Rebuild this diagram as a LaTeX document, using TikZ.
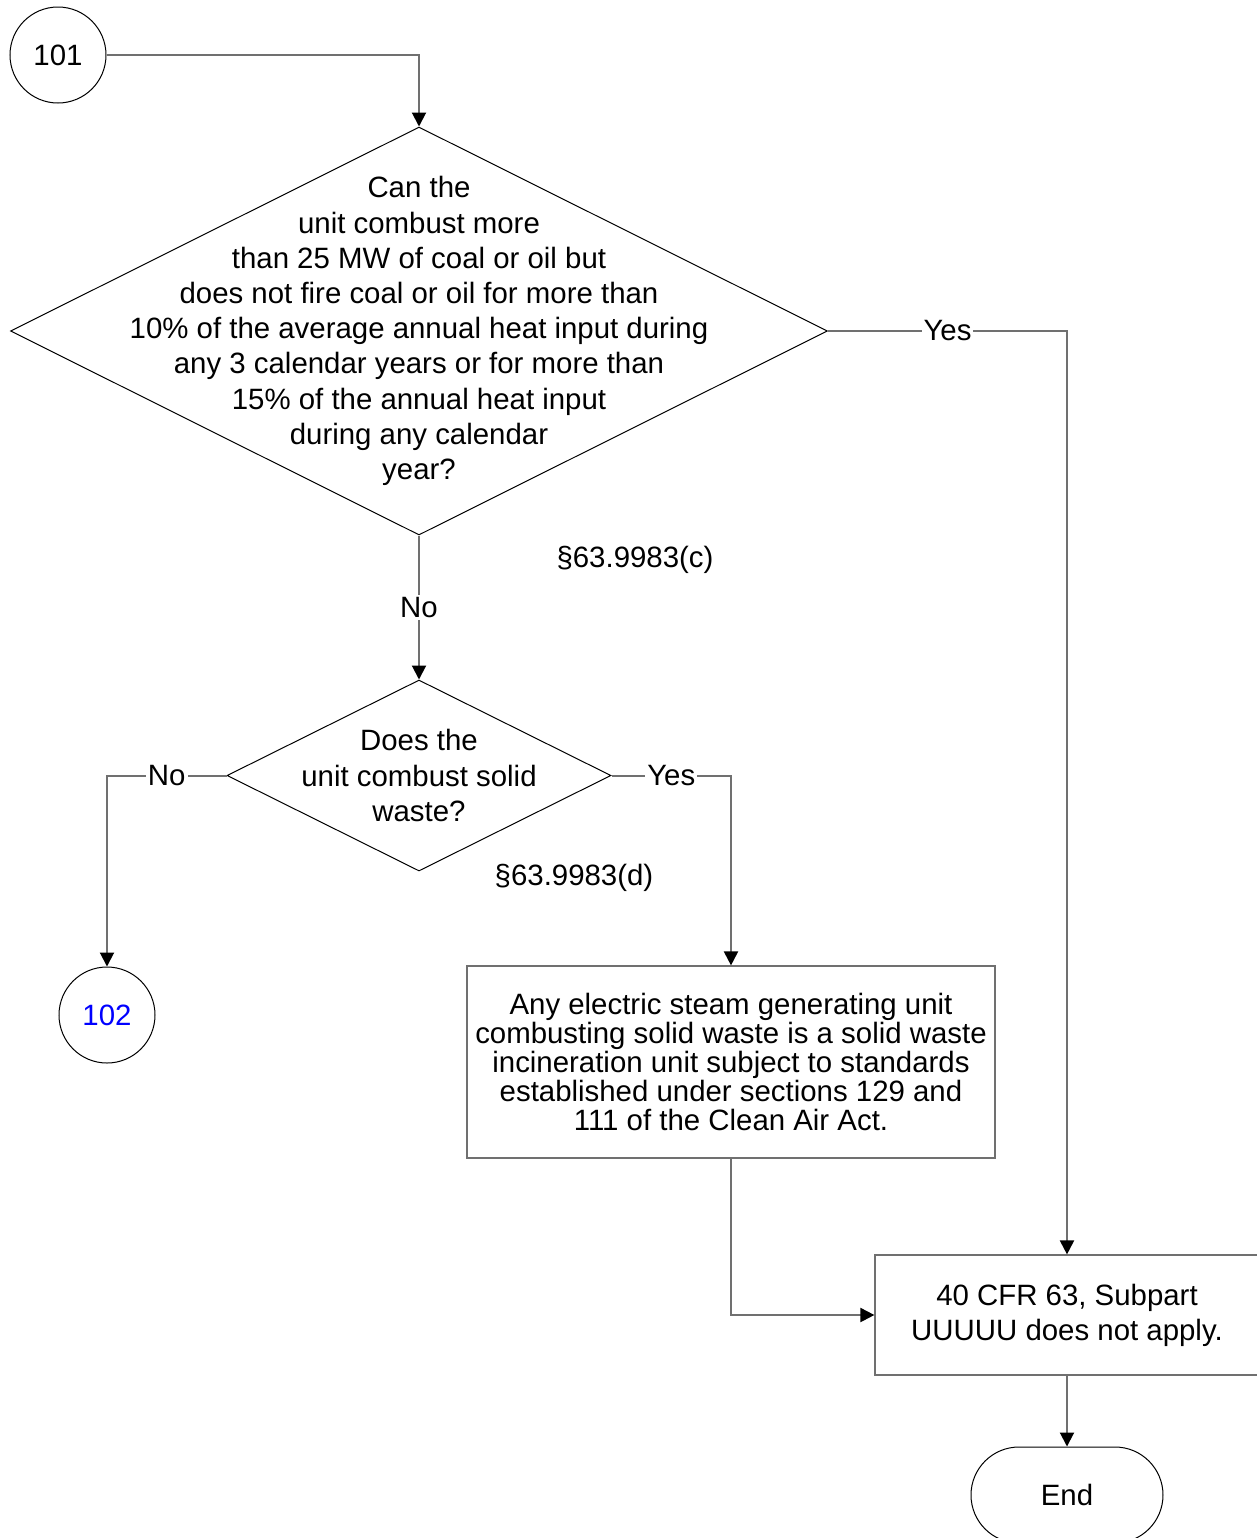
\documentclass[tikz,border=0pt]{standalone}
\usepackage{fontspec}
\setmainfont{Liberation Sans}
\usetikzlibrary{shapes.geometric,shapes.misc,arrows.meta}
\definecolor{lineclr}{RGB}{112,112,112}
\definecolor{refblue}{RGB}{0,0,255}
\begin{document}
\begin{tikzpicture}[x=0.5pt,y=-0.5pt,
  conn/.style={draw=lineclr,line width=1pt},
  tip/.style={-{Triangle[length=7pt,width=7pt,color=black]}},
  decision/.style={diamond,draw=black,line width=0.5pt,inner sep=0pt},
  offpage/.style={circle,draw=black,line width=0.5pt,minimum size=48pt,inner sep=0pt,font=\fontsize{14.7pt}{17pt}\selectfont},
  procbox/.style={rectangle,draw=lineclr,line width=0.6pt,inner sep=0pt,align=center},
  endstyle/.style={rounded rectangle,draw=black,line width=0.5pt,minimum width=96pt,minimum height=48pt,inner sep=0pt,font=\fontsize{14.7pt}{17pt}\selectfont},
  qtext/.style={align=center,inner sep=0pt,font=\fontsize{14.7pt}{17.6pt}\selectfont},
  answer/.style={fill=white,inner sep=1pt,font=\fontsize{14.7pt}{17pt}\selectfont},
  cite/.style={inner sep=0pt,font=\fontsize{14.7pt}{17pt}\selectfont}]
\useasboundingbox (0,0) rectangle (1257,1538);
\node[offpage] (c101) at (58,55) {101};
\node[decision,minimum width=408.5pt,minimum height=204pt] (q1) at (419,331) {};
\node[qtext] (q1t) at (q1.center) {Can the\\unit combust more\\than 25 MW of coal or oil but\\does not fire coal or oil for more than\\10\% of the average annual heat input during\\any 3 calendar years or for more than\\15\% of the annual heat input\\during any calendar\\year?};
\node[cite] (ref1) at (635,560) {§63.9983(c)};
\node[decision,minimum width=192pt,minimum height=95.5pt] (q2) at (419,775.5) {};
\node[qtext] (q2t) at (q2.center) {Does the\\unit combust solid\\waste?};
\node[cite] (ref2) at (574,878) {§63.9983(d)};
\node[offpage,text=refblue] (c102) at (107,1015) {102};
\node[procbox,minimum width=264pt,minimum height=96pt,font=\fontsize{14.7pt}{14.6pt}\selectfont] (swi) at (731,1062) {Any electric steam generating unit\\combusting solid waste is a solid waste\\incineration unit subject to standards\\established under sections 129 and\\111 of the Clean Air Act.};
\node[procbox,minimum width=192pt,minimum height=60pt,font=\fontsize{14.7pt}{17.5pt}\selectfont] (na) at (1067,1315) {40 CFR 63, Subpart\\UUUUU does not apply.};
\node[endstyle] (stop) at (1067,1495) {End};
\draw[conn,tip] (c101.east) -| (q1.north);
\draw[conn,tip] (q1.east) -| node[answer,pos=0.25] {Yes} (na.north);
\draw[conn,tip] (q1.south) -- node[answer] {No} (q2.north);
\draw[conn,tip] (q2.west) -| node[answer,pos=0.25] {No} (c102.north);
\draw[conn,tip] (q2.east) -| node[answer,pos=0.25] {Yes} (swi.north);
\draw[conn,tip] (swi.south) |- (na.west);
\draw[conn,tip] (na.south) -- (stop.north);
\end{tikzpicture}
\end{document}
